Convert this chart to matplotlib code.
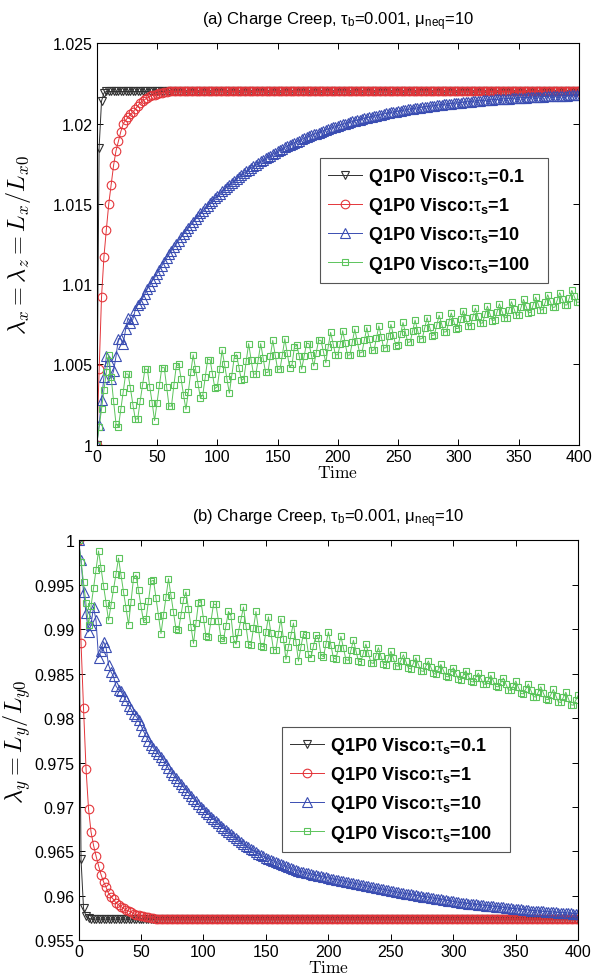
import numpy as np
import matplotlib
matplotlib.use('Agg')
import matplotlib.pyplot as plt
from matplotlib.ticker import FuncFormatter

plt.rcParams['font.family'] = ['Liberation Sans', 'DejaVu Sans']
plt.rcParams['mathtext.fontset'] = 'custom'
plt.rcParams['mathtext.rm'] = 'Liberation Sans'
plt.rcParams['mathtext.it'] = 'Liberation Sans:italic'
plt.rcParams['mathtext.bf'] = 'Liberation Sans:bold'

# time samples (every 2 time units)
time = np.arange(0, 401, 2)

labels = [r'Q1P0 Visco:$\mathrm{\tau}_{\mathbf{s}}$=0.1',
          r'Q1P0 Visco:$\mathrm{\tau}_{\mathbf{s}}$=1',
          r'Q1P0 Visco:$\mathrm{\tau}_{\mathbf{s}}$=10',
          r'Q1P0 Visco:$\mathrm{\tau}_{\mathbf{s}}$=100']

# ---------- (a) lambda_x ----------
black_a = [1.0000, 1.0185, 1.0214, 1.0219] + [1.0220] * 197

red_a = [1.0000, 1.0047, 1.0092, 1.0117, 1.0134, 1.0150, 1.0162, 1.0174, 1.0183, 1.0189,
         1.0195, 1.0200, 1.0202, 1.0204, 1.0206, 1.0207, 1.0209, 1.0211, 1.0213, 1.0214,
         1.0215, 1.0216, 1.0217, 1.02175, 1.0218, 1.02185, 1.0219, 1.02192, 1.02195, 1.02197] + [1.0220] * 171

blue_a = [1.0000, 1.0012, 1.0028, 1.0042, 1.0055, 1.0052, 1.0041, 1.0046, 1.0055, 1.0066,
          1.0066, 1.0063, 1.0072, 1.0079, 1.0076, 1.0078, 1.0084, 1.0087, 1.0088, 1.0091,
          1.0094, 1.0097, 1.0099, 1.0102, 1.01040, 1.01066, 1.01090, 1.01115, 1.01139, 1.01162,
          1.01185, 1.01207, 1.01229, 1.01250, 1.01271, 1.01292, 1.01312, 1.01331, 1.01350, 1.01369,
          1.01387, 1.01405, 1.01423, 1.01440, 1.01456, 1.01473, 1.01489, 1.01504, 1.01520, 1.01535,
          1.01549, 1.01564, 1.01578, 1.01591, 1.01605, 1.01618, 1.01631, 1.01643, 1.01655, 1.01667,
          1.01679, 1.01690, 1.01702, 1.01713, 1.01723, 1.01734, 1.01744, 1.01754, 1.01764, 1.01773,
          1.01783, 1.01792, 1.01801, 1.01810, 1.01818, 1.01827, 1.01835, 1.01843, 1.01851, 1.01859,
          1.01866, 1.01873, 1.01881, 1.01888, 1.01894, 1.01901, 1.01908, 1.01914, 1.01920, 1.01927,
          1.01933, 1.01938, 1.01944, 1.01950, 1.01955, 1.01961, 1.01966, 1.01971, 1.01976, 1.01981,
          1.01986, 1.01991, 1.01995, 1.02000, 1.02004, 1.02008, 1.02013, 1.02017, 1.02021, 1.02025,
          1.02029, 1.02032, 1.02036, 1.02040, 1.02043, 1.02047, 1.02050, 1.02053, 1.02056, 1.02060,
          1.02063, 1.02066, 1.02069, 1.02072, 1.02074, 1.02077, 1.02080, 1.02083, 1.02085, 1.02088,
          1.02090, 1.02093, 1.02095, 1.02097, 1.02100, 1.02102, 1.02104, 1.02106, 1.02108, 1.02110,
          1.02112, 1.02114, 1.02116, 1.02118, 1.02120, 1.02121, 1.02123, 1.02125, 1.02127, 1.02128,
          1.02130, 1.02131, 1.02133, 1.02134, 1.02136, 1.02137, 1.02139, 1.02140, 1.02141, 1.02143,
          1.02144, 1.02145, 1.02146, 1.02147, 1.02149, 1.02150, 1.02151, 1.02152, 1.02153, 1.02154,
          1.02155, 1.02156, 1.02157, 1.02158, 1.02159, 1.02160, 1.02161, 1.02162, 1.02162, 1.02163,
          1.02164, 1.02165, 1.02166, 1.02166, 1.02167, 1.02168, 1.02169, 1.02169, 1.02170, 1.02171,
          1.02171, 1.02172, 1.02172, 1.02173, 1.02174, 1.02174, 1.02175, 1.02175, 1.02176, 1.02176,
          1.02177]

green_a = [1.0000, 1.0011, 1.0022, 1.0034, 1.0045, 1.0056, 1.0042, 1.0027, 1.0013, 1.0011,
           1.0022, 1.0033, 1.0044, 1.0044, 1.0035, 1.0025, 1.0016, 1.0016, 1.0027, 1.0037,
           1.0047, 1.0047, 1.0036, 1.0026, 1.0015, 1.0026, 1.0037, 1.0048, 1.0048, 1.0036,
           1.0024, 1.0024, 1.0037, 1.0049, 1.0050, 1.0041, 1.0031, 1.0022, 1.0033, 1.0045,
           1.0056, 1.0047, 1.0038, 1.0029, 1.0031, 1.0042, 1.0053, 1.0053, 1.0044, 1.0035,
           1.0036, 1.0047, 1.0059, 1.0050, 1.0041, 1.0032, 1.0043, 1.0054, 1.0056, 1.0048,
           1.0040, 1.0041, 1.0052, 1.0063, 1.0053, 1.0044, 1.0044, 1.0053, 1.0063, 1.0054,
           1.0045, 1.0045, 1.0055, 1.0065, 1.0056, 1.0047, 1.0047, 1.0056, 1.0066, 1.0057,
           1.0048, 1.0050, 1.0061, 1.0062, 1.0055, 1.0047, 1.0055, 1.0063, 1.0063, 1.0056,
           1.0049, 1.0057, 1.0065, 1.0065, 1.0058, 1.0051, 1.0061, 1.0070, 1.0063, 1.0056,
           1.0056, 1.0063, 1.0071, 1.00634, 1.00557, 1.00559, 1.0064, 1.0072, 1.00646, 1.00572,
           1.00574, 1.00652, 1.00729, 1.00658, 1.00587, 1.00589, 1.00664, 1.0074, 1.00671, 1.00602,
           1.00604, 1.00677, 1.00749, 1.00683, 1.00617, 1.00619, 1.0069, 1.00761, 1.00699, 1.00637,
           1.0064, 1.00708, 1.00776, 1.00717, 1.00658, 1.00661, 1.00726, 1.00791, 1.00735, 1.0068,
           1.00683, 1.00744, 1.00806, 1.00754, 1.00701, 1.00704, 1.00763, 1.00821, 1.00772, 1.00723,
           1.00725, 1.0078, 1.00835, 1.00787, 1.00739, 1.00742, 1.00796, 1.0085, 1.00803, 1.00756,
           1.00758, 1.00811, 1.00863, 1.00818, 1.00773, 1.00776, 1.00828, 1.00878, 1.00834, 1.00789,
           1.00792, 1.00841, 1.00891, 1.00848, 1.00805, 1.00808, 1.00857, 1.00905, 1.00863, 1.00821,
           1.00824, 1.00872, 1.00919, 1.00879, 1.00838, 1.00841, 1.00888, 1.00934, 1.00894, 1.00855,
           1.00857, 1.00902, 1.00947, 1.00909, 1.00871, 1.0087, 1.00916, 1.00961, 1.00924, 1.00887,
           1.00888]

# ---------- (b) lambda_y ----------
black_b = [1.0000, 0.9641, 0.9586, 0.9577, 0.9575] + [0.9574] * 196

red_b = [1.0000, 0.9885, 0.9811, 0.9743, 0.9698, 0.9672, 0.9657, 0.9645, 0.9634, 0.9624,
         0.9616, 0.9610, 0.9603, 0.9599, 0.9596, 0.9592, 0.9590, 0.9588, 0.9586, 0.9584,
         0.9583, 0.9582, 0.9580, 0.9579, 0.9578, 0.95775, 0.9577, 0.95765, 0.9576, 0.95755,
         0.9575] + [0.9574] * 170

blue_b = [1.0000, 0.9978, 0.9942, 0.9918, 0.9897, 0.9905, 0.9925, 0.9910, 0.9868, 0.9876,
          0.9886, 0.9880, 0.9860, 0.9852, 0.9847, 0.9836, 0.9832, 0.9830, 0.9825, 0.9820,
          0.9814, 0.9810, 0.9805, 0.9802, 0.97983, 0.97918, 0.97853, 0.97801, 0.97748, 0.97703,
          0.97666, 0.97628, 0.97591, 0.97563, 0.97524, 0.97485, 0.97435, 0.97397, 0.97360, 0.97322,
          0.97288, 0.97256, 0.97223, 0.97191, 0.97158, 0.97126, 0.97094, 0.97062, 0.97030, 0.97002,
          0.96974, 0.96947, 0.96919, 0.96891, 0.96865, 0.96840, 0.96815, 0.96791, 0.96766, 0.96741,
          0.96717, 0.96695, 0.96672, 0.96650, 0.96627, 0.96604, 0.96582, 0.96565, 0.96547, 0.96529,
          0.96512, 0.96494, 0.96476, 0.96458, 0.96444, 0.96431, 0.96418, 0.96406, 0.96393, 0.96380,
          0.96367, 0.96355, 0.96344, 0.96333, 0.96322, 0.96311, 0.96300, 0.96289, 0.96280, 0.96273,
          0.96267, 0.96260, 0.96253, 0.96247, 0.96240, 0.96233, 0.96227, 0.96220, 0.96213, 0.96207,
          0.96201, 0.96195, 0.96190, 0.96184, 0.96178, 0.96172, 0.96166, 0.96160, 0.96155, 0.96149,
          0.96143, 0.96137, 0.96131, 0.96125, 0.96120, 0.96114, 0.96108, 0.96102, 0.96096, 0.96091,
          0.96085, 0.96079, 0.96073, 0.96067, 0.96061, 0.96056, 0.96050, 0.96044, 0.96039, 0.96034,
          0.96030, 0.96025, 0.96021, 0.96016, 0.96011, 0.96007, 0.96002, 0.95997, 0.95993, 0.95988,
          0.95984, 0.95979, 0.95974, 0.95970, 0.95965, 0.95960, 0.95956, 0.95951, 0.95947, 0.95942,
          0.95937, 0.95933, 0.95928, 0.95924, 0.95919, 0.95916, 0.95913, 0.95910, 0.95907, 0.95904,
          0.95900, 0.95897, 0.95894, 0.95891, 0.95888, 0.95885, 0.95882, 0.95879, 0.95876, 0.95873,
          0.95870, 0.95866, 0.95863, 0.95860, 0.95857, 0.95854, 0.95851, 0.95848, 0.95845, 0.95842,
          0.95839, 0.95835, 0.95833, 0.95831, 0.95829, 0.95827, 0.95825, 0.95823, 0.95821, 0.95819,
          0.95817, 0.95815, 0.95813, 0.95811, 0.95809, 0.95807, 0.95805, 0.95803, 0.95801, 0.95800,
          0.95799]

green_b = [1.0000, 0.9976, 0.9953, 0.9929, 0.9905, 0.9926, 0.9946, 0.9967, 0.9988, 0.9969,
           0.9949, 0.9930, 0.9910, 0.9927, 0.9945, 0.9962, 0.9980, 0.9961, 0.9942, 0.9924,
           0.9905, 0.9931, 0.9957, 0.9961, 0.9944, 0.9926, 0.9909, 0.9911, 0.9932, 0.9954,
           0.9955, 0.9935, 0.9915, 0.9895, 0.9916, 0.9936, 0.9957, 0.9938, 0.9919, 0.9900,
           0.9899, 0.9916, 0.9933, 0.9942, 0.9923, 0.9903, 0.9884, 0.9907, 0.9930, 0.9931,
           0.9912, 0.9892, 0.9891, 0.9909, 0.9928, 0.9928, 0.9909, 0.9890, 0.9888, 0.9904,
           0.9920, 0.9915, 0.9889, 0.9883, 0.9897, 0.9911, 0.9925, 0.9904, 0.9883, 0.9882,
           0.9901, 0.9920, 0.9900, 0.9881, 0.9880, 0.9897, 0.9914, 0.9896, 0.9877, 0.9877,
           0.9895, 0.9912, 0.9889, 0.9866, 0.9880, 0.9893, 0.9907, 0.9886, 0.9864, 0.9880,
           0.9895, 0.9893, 0.9872, 0.9868, 0.9881, 0.9893, 0.9890, 0.9871, 0.9869, 0.9883,
           0.9897, 0.98822, 0.98674, 0.98664, 0.98792, 0.9892, 0.98789, 0.98658, 0.98649, 0.98762,
           0.98876, 0.98759, 0.98642, 0.98634, 0.98734, 0.98833, 0.98728, 0.98623, 0.98615, 0.98704,
           0.98793, 0.987, 0.98607, 0.98598, 0.98675, 0.98752, 0.98671, 0.9859, 0.98583, 0.98648,
           0.98713, 0.98637, 0.98561, 0.98554, 0.98616, 0.98678, 0.98605, 0.98532, 0.98525, 0.98584,
           0.98643, 0.98573, 0.98502, 0.98494, 0.98549, 0.98604, 0.98537, 0.9847, 0.98463, 0.98515,
           0.98567, 0.98503, 0.98438, 0.98432, 0.98483, 0.98534, 0.98473, 0.98412, 0.98406, 0.98456,
           0.98507, 0.98446, 0.98385, 0.98379, 0.9843, 0.98481, 0.98419, 0.98357, 0.98351, 0.98401,
           0.98451, 0.98385, 0.98319, 0.98312, 0.98364, 0.98417, 0.98348, 0.98279, 0.98272, 0.98328,
           0.98384, 0.98314, 0.98243, 0.98237, 0.98295, 0.98353, 0.98283, 0.98213, 0.98207, 0.98264,
           0.98322, 0.98252, 0.98182, 0.98176, 0.98233, 0.98291, 0.98221, 0.98151, 0.98145, 0.98202,
           0.9826]

colors = ['#303030', '#e4353a', '#3a4db2', '#5cc45c']
markers = ['v', 'o', '^', 's']
msizes = [6.2, 6.2, 6.8, 5.0]


def draw(ax, series, title, ylabel, ylim, yticks):
    for ys, c, m, ms, lab in zip(series, colors, markers, msizes, labels):
        ax.plot(time, ys, color=c, lw=0.7, marker=m, ms=ms, mfc='none',
                mec=c, mew=0.8, label=lab + '   ')
    ax.set_xlim(0, 400)
    ax.set_ylim(*ylim)
    ax.set_xticks(np.arange(0, 401, 50))
    ax.set_yticks(yticks)
    ax.yaxis.set_major_formatter(FuncFormatter(lambda v, p: '%g' % round(v, 4)))
    ax.tick_params(direction='in', top=True, right=True, length=4, width=0.7,
                   labelsize=11.5, pad=3)
    for s in ax.spines.values():
        s.set_linewidth(0.8)
    ax.set_title(title, fontsize=12, pad=14)
    ax.set_xlabel(r'$\mathrm{Time}$', math_fontfamily='cm', fontsize=12.5, labelpad=0)
    ax.set_ylabel(ylabel, math_fontfamily='cm', fontsize=17.5)


fig = plt.figure(figsize=(5.94, 9.78), dpi=100)
ax1 = fig.add_axes([0.1628, 0.5443, 0.8120, 0.4104])
ax2 = fig.add_axes([0.1322, 0.0375, 0.8414, 0.4090])

draw(ax1, [black_a, red_a, blue_a, green_a],
     r'(a) Charge Creep, $\mathrm{\tau_b}$=0.001, $\mathrm{\mu_{neq}}$=10',
     r'$\lambda_x=\lambda_z=L_x/L_{x0}$', (1.0, 1.025),
     [1.0, 1.005, 1.01, 1.015, 1.02, 1.025])
draw(ax2, [black_b, red_b, blue_b, green_b],
     r'(b) Charge Creep, $\mathrm{\tau_b}$=0.001, $\mathrm{\mu_{neq}}$=10',
     r'$\lambda_y=L_y/L_{y0}$', (0.955, 1.0),
     [0.955, 0.96, 0.965, 0.97, 0.975, 0.98, 0.985, 0.99, 0.995, 1.0])
ax1.yaxis.set_label_coords(-0.132, 0.5)
ax2.yaxis.set_label_coords(-0.092, 0.5)

leg_kw = dict(loc='upper left', bbox_transform=fig.transFigure, borderaxespad=0,
              fancybox=False, framealpha=1, edgecolor='#555555', numpoints=1,
              handlelength=1.9, handletextpad=0.3, labelspacing=0.45,
              borderpad=0.45, prop={'weight': 'bold', 'size': 13})
l1 = ax1.legend(bbox_to_anchor=(0.5387, 0.8374), **leg_kw)
l2 = ax2.legend(bbox_to_anchor=(0.4747, 0.2556), **leg_kw)
for l in (l1, l2):
    l.get_frame().set_linewidth(0.8)

fig.savefig('out.png', dpi=100)
